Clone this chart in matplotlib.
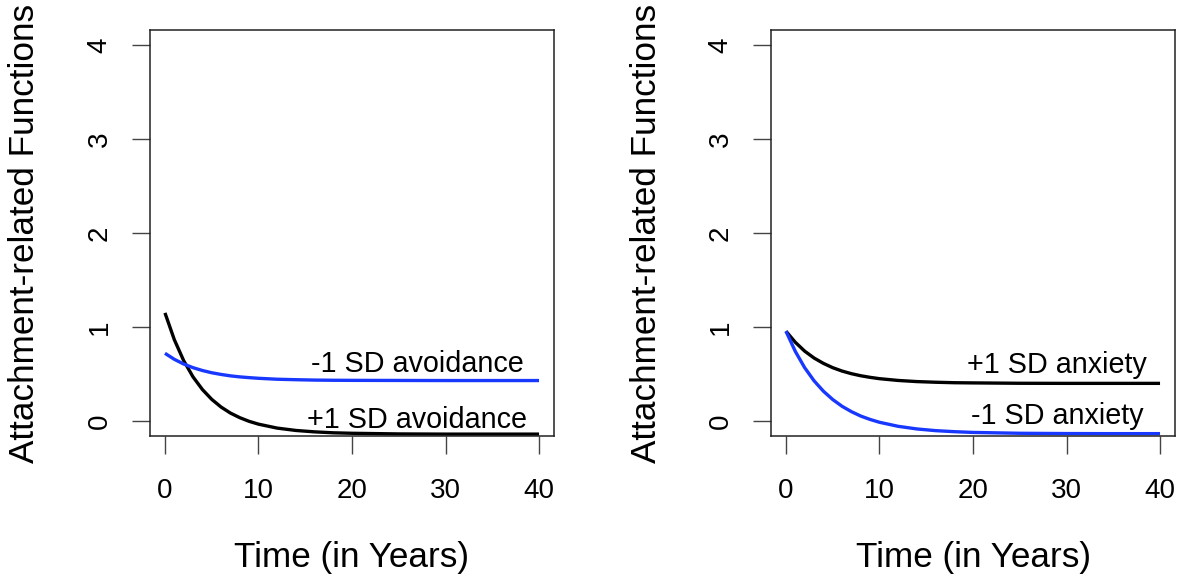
import numpy as np
from matplotlib import pyplot as plt

plt.rcParams['font.family'] = ['Liberation Sans', 'DejaVu Sans']

# values
years = [0, 1, 2, 3, 4, 5, 6, 7, 8, 9, 10, 12, 14, 16, 18, 20, 25, 30, 35, 40]

avoid_high = [1.15, 0.865, 0.642, 0.469, 0.335, 0.230, 0.148, 0.084, 0.035, -0.004,
              -0.034, -0.076, -0.101, -0.116, -0.126, -0.131, -0.138, -0.14, -0.14, -0.14]
avoid_low = [0.72, 0.656, 0.606, 0.567, 0.537, 0.513, 0.495, 0.480, 0.469, 0.461,
             0.454, 0.444, 0.439, 0.435, 0.433, 0.432, 0.431, 0.43, 0.43, 0.43]
anx_high = [0.955, 0.837, 0.743, 0.670, 0.613, 0.567, 0.531, 0.503, 0.481, 0.464,
            0.450, 0.431, 0.419, 0.412, 0.407, 0.405, 0.401, 0.40, 0.40, 0.40]
anx_low = [0.955, 0.740, 0.567, 0.428, 0.317, 0.228, 0.156, 0.099, 0.052, 0.016,
           -0.014, -0.057, -0.085, -0.103, -0.114, -0.122, -0.131, -0.134, -0.135, -0.135]

x_ticks = [0, 10, 20, 30, 40]
y_ticks = [0, 1, 2, 3, 4]

panels = [
    (avoid_high, avoid_low, '+1 SD avoidance', '-1 SD avoidance', (27, -0.078), (27, 0.524)),
    (anx_high, anx_low, '+1 SD anxiety', '-1 SD anxiety', (29, 0.51), (29, -0.03)),
]

BLUE = '#1838ff'

fig = plt.figure(figsize=(11.8, 5.82), dpi=100)
lefts = [150 / 1180, 771 / 1180]

for i, (high, low, high_txt, low_txt, high_pos, low_pos) in enumerate(panels):
    ax = fig.add_axes([lefts[i], 146 / 582, 404 / 1180, 406 / 582])
    ax.plot(years, high, color='black', linewidth=2.4, solid_capstyle='butt')
    ax.plot(years, low, color=BLUE, linewidth=2.4, solid_capstyle='butt')

    ax.text(high_pos[0], high_pos[1], high_txt, ha='center', va='baseline', fontsize=20.7)
    ax.text(low_pos[0], low_pos[1], low_txt, ha='center', va='baseline', fontsize=20.7)

    # R style: data range padded by 4%
    ax.set_xlim(-1.6, 41.6)
    ax.set_ylim(-0.16, 4.16)
    ax.set_xticks(x_ticks)
    ax.set_yticks(y_ticks)
    ax.tick_params(direction='out', length=13, width=1.0, labelsize=20, color='#444444')
    ax.tick_params(axis='x', pad=17)
    ax.tick_params(axis='y', pad=14, labelrotation=90)
    for lab in ax.get_yticklabels():
        lab.set_va('center')
    for sp in ax.spines.values():
        sp.set_linewidth(1.1)
        sp.set_color('#222222')

    ax.set_xlabel('Time (in Years)', fontsize=25.3, va='center')
    ax.xaxis.set_label_coords(0.5, (436 - 558) / 406)
    ax.set_ylabel('Attachment-related Functions', fontsize=25.3, va='center')
    ax.yaxis.set_label_coords((25 - 150) / 404, 0.5)

plt.savefig('out.png', dpi=100)
plt.close()
